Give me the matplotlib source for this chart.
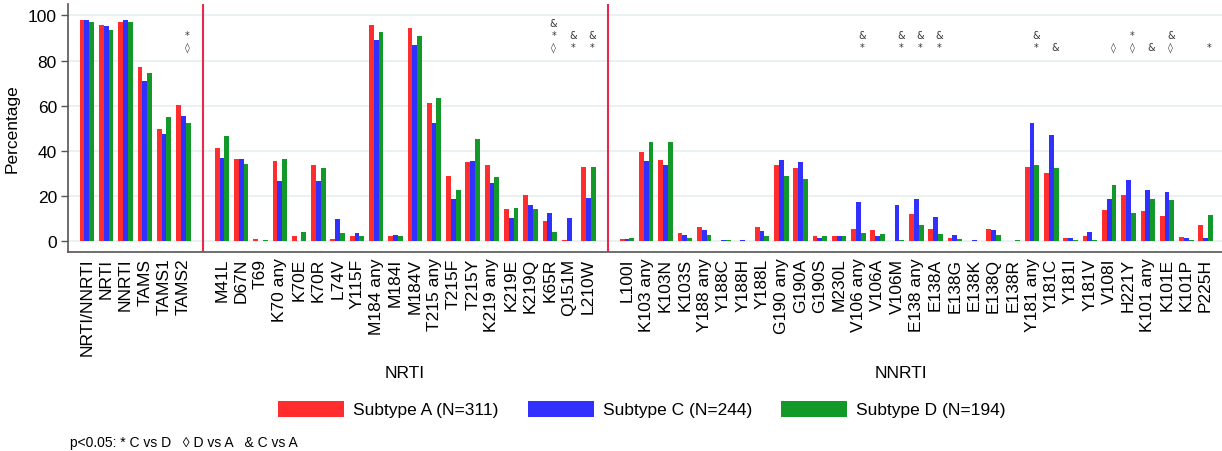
import numpy as np
import matplotlib
matplotlib.use('Agg')
import matplotlib.pyplot as plt
from matplotlib.patches import Patch
from matplotlib.transforms import blended_transform_factory

plt.rcParams['font.family'] = ['Liberation Sans', 'DejaVu Sans']

# categories in the three panels
overall = ['NRTI/NNRTI', 'NRTI', 'NNRTI', 'TAMS', 'TAMS1', 'TAMS2']
nrti = ['M41L', 'D67N', 'T69', 'K70 any', 'K70E', 'K70R', 'L74V', 'Y115F',
        'M184 any', 'M184I', 'M184V', 'T215 any', 'T215F', 'T215Y',
        'K219 any', 'K219E', 'K219Q', 'K65R', 'Q151M', 'L210W']
nnrti = ['L100I', 'K103 any', 'K103N', 'K103S', 'Y188 any', 'Y188C', 'Y188H',
         'Y188L', 'G190 any', 'G190A', 'G190S', 'M230L', 'V106 any', 'V106A',
         'V106M', 'E138 any', 'E138A', 'E138G', 'E138K', 'E138Q', 'E138R',
         'Y181 any', 'Y181C', 'Y181I', 'Y181V', 'V108I', 'H221Y', 'K101 any',
         'K101E', 'K101P', 'P225H']

# percentages, subtype A / C / D
overall_a = [97.9, 96.0, 97.0, 77.3, 49.6, 60.2]
overall_c = [98.2, 95.3, 98.2, 71.0, 47.3, 55.4]
overall_d = [97.0, 93.5, 97.0, 74.4, 55.2, 52.1]

nrti_a = [41.2, 36.5, 1.0, 35.6, 2.2, 33.7, 1.0, 2.4, 95.7, 2.2, 94.4, 61.4,
          28.6, 35.1, 33.7, 14.1, 20.2, 8.8, 0.6, 32.7]
nrti_c = [37.0, 36.4, 0.0, 26.7, 0.0, 26.7, 9.9, 3.5, 89.1, 2.8, 87.0, 52.3,
          18.7, 35.6, 25.9, 10.2, 15.9, 12.2, 10.2, 19.0]
nrti_d = [46.5, 34.2, 0.6, 36.5, 4.0, 32.4, 3.5, 2.1, 92.9, 2.4, 90.9, 63.3,
          22.7, 45.4, 28.3, 14.7, 14.1, 4.0, 0.0, 32.8]

nnrti_a = [1.0, 39.3, 36.1, 3.5, 6.3, 0.0, 0.2, 6.3, 33.9, 32.3, 2.2, 2.4,
           5.2, 5.0, 0.2, 12.1, 5.4, 1.3, 0.0, 5.2, 0.0, 32.7, 30.0, 1.5,
           2.2, 13.8, 20.6, 13.3, 11.2, 1.9, 7.1]
nnrti_c = [0.7, 35.3, 33.7, 2.8, 4.9, 0.4, 0.4, 4.4, 36.1, 34.8, 1.2, 2.4,
           17.2, 2.1, 16.1, 18.4, 10.6, 2.5, 0.4, 5.0, 0.0, 52.4, 47.0, 1.5,
           4.1, 18.4, 27.0, 22.8, 21.8, 1.2, 1.5]
nnrti_d = [1.5, 43.9, 43.9, 1.5, 2.5, 0.4, 0.0, 2.1, 28.9, 27.4, 2.1, 2.4,
           3.5, 2.9, 0.4, 7.1, 3.1, 1.0, 0.0, 2.5, 0.4, 33.6, 32.5, 0.6,
           0.4, 24.7, 12.4, 18.6, 18.1, 0.6, 11.3]

# significance marks (p<0.05)
sig_labels = ['TAMS2', 'K65R', 'Q151M', 'L210W', 'V106 any', 'V106M',
              'E138 any', 'E138A', 'Y181 any', 'Y181C', 'V108I', 'H221Y',
              'K101 any', 'K101E', 'P225H']
sig_marks = ['*\n\u25ca', '&\n*\n\u25ca', '&\n*', '&\n*', '&\n*', '&\n*',
             '&\n*', '&\n*', '&\n*', '&', '\u25ca', '*\n\u25ca',
             '&', '&\n\u25ca', '*']

series_names = ['Subtype A (N=311)', 'Subtype C (N=244)', 'Subtype D (N=194)']
colors = ['#ff2d2d', '#3131ff', '#12992a']

labels = overall + nrti + nnrti
vals_a = np.array(overall_a + nrti_a + nnrti_a)
vals_c = np.array(overall_c + nrti_c + nnrti_c)
vals_d = np.array(overall_d + nrti_d + nnrti_d)

# one empty slot between panels
pos = np.concatenate([np.arange(len(overall)),
                      np.arange(len(nrti)) + len(overall) + 1,
                      np.arange(len(nnrti)) + len(overall) + len(nrti) + 2])
sep1 = len(overall)
sep2 = len(overall) + len(nrti) + 1

fig = plt.figure(figsize=(12.22, 4.52), dpi=100)
ax = fig.add_axes([68 / 1222, 199 / 452, 1 - 68 / 1222, 248 / 452])

w = 0.25
for k, v in enumerate([vals_a, vals_c, vals_d]):
    ax.bar(pos + (k - 1) * w, v, width=w, color=colors[k], zorder=3,
           linewidth=0)

for s in [sep1, sep2]:
    ax.axvline(s, color='#e8294f', lw=1.5, zorder=4)

for lab, mark in zip(sig_labels, sig_marks):
    x = pos[labels.index(lab)] + 0.2
    ax.text(x, 84, mark, ha='center', va='bottom', fontsize=7,
            linespacing=1.2, color='#333333', zorder=5,
            family=['DejaVu Sans'])

ax.set_xlim(-0.98, pos[-1] + 0.85)
ax.set_ylim(-4.9, 105.1)
ax.set_yticks(np.arange(0, 101, 20))
ax.yaxis.grid(True, color='#e4eeee', lw=1.1, zorder=0)
ax.set_xticks(pos)
ax.set_xticklabels(labels, rotation=90, fontsize=12.5, va='top')
ax.tick_params(axis='x', length=0, pad=4)
ax.tick_params(axis='y', length=5, width=1, color='#555555', labelsize=12.5,
               pad=3)
ax.set_ylabel('Percentage', fontsize=12.5, labelpad=6)
for side in ['top', 'right']:
    ax.spines[side].set_visible(False)
for side in ['left', 'bottom']:
    ax.spines[side].set_color('#555555')
    ax.spines[side].set_linewidth(1.2)

tr = blended_transform_factory(ax.transData, fig.transFigure)
ax.text(np.mean(pos[len(overall):len(overall) + len(nrti)]), 1 - 374 / 452,
        'NRTI', transform=tr, ha='center', va='center', fontsize=12.5)
ax.text(np.mean(pos[len(overall) + len(nrti):]) - 0.8, 1 - 374 / 452,
        'NNRTI', transform=tr, ha='center', va='center', fontsize=12.5)

handles = [Patch(facecolor=c, edgecolor='none') for c in colors]
fig.legend(handles, series_names, loc='center', ncol=3,
           bbox_to_anchor=(642 / 1222, 1 - 410 / 452), frameon=False,
           fontsize=12.5, handlelength=3.8, handleheight=1.04,
           handletextpad=0.52, columnspacing=1.67)

fig.text(70 / 1222, 1 - 443 / 452,
         'p<0.05: * C vs D   \u25ca D vs A   & C vs A',
         fontsize=10, va='center', ha='left')

fig.savefig('out.png', dpi=100)
